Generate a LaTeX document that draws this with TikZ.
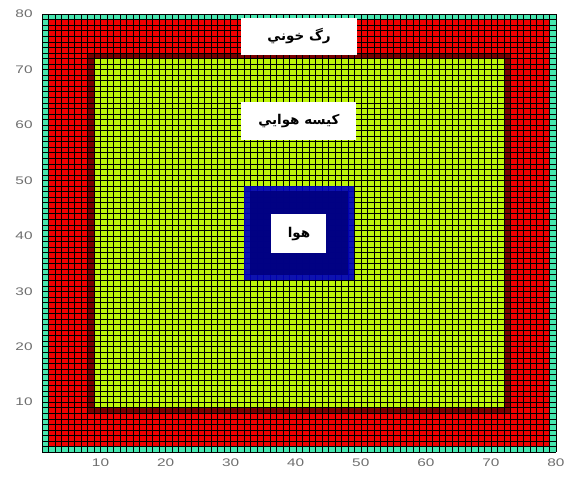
\documentclass[tikz,border=0pt]{standalone}
\usepackage{fontspec}
\setmainfont{Liberation Sans}
\newfontfamily\farsifont[Script=Arabic]{DejaVu Sans}
\TeXXeTstate=1
\definecolor{CellCyan}{RGB}{70,230,175}
\definecolor{CellRed}{RGB}{240,0,0}
\definecolor{WallRed}{RGB}{120,0,0}
\definecolor{CellLime}{RGB}{190,245,10}
\definecolor{AirBlue}{RGB}{0,0,190}
\definecolor{AirNavy}{RGB}{0,0,128}
\definecolor{TickGray}{RGB}{110,110,110}
\tikzset{tag/.style={fill=white,inner sep=0pt,font=\farsifont\bfseries\fontsize{13.5}{13.5}\selectfont},
  ticklab/.style={text=TickGray,inner sep=0pt,font=\fontsize{11}{11}\selectfont,xscale=1.4,transform shape}}

\begin{document}
\begin{tikzpicture}[x=1pt,y=1pt]
\useasboundingbox (0,0) rectangle (566,480);
\begin{scope}[shift={(35.494pt,22.456pt)},x=6.506pt,y=5.544pt]
\fill[CellCyan] (1,1) rectangle (80,80);\fill[CellRed] (2,2) rectangle (79,79);
\fill[WallRed] (8,8) rectangle (73,73);\fill[CellLime] (9,9) rectangle (72,72);
% cell grid
\foreach \i in {1,...,80}{\draw[black,line width=.35pt] (\i,1)--(\i,80) (1,\i)--(80,\i);}
\fill[AirBlue,opacity=.92] (32,32) rectangle (49,49);\fill[AirNavy,opacity=.92] (33,33) rectangle (48,48);
\node[tag,minimum width=116pt,minimum height=37pt] (vessel) at (40.5,75.95) {\beginR رگ خوني\endR};
\node[tag,minimum width=115pt,minimum height=38pt] (sac) at (40.5,60.7) {\beginR کیسه هوايي\endR};
\node[tag,minimum width=55pt,minimum height=39pt] (air) at (40.5,40.4) {\beginR هوا\endR};
\foreach \v in {10,20,...,80}{
  \node[ticklab] (xt\v) at (\v,-1) {\v};
  \node[ticklab,anchor=east] (yt\v) at (-0.4,\v) {\v};}
\end{scope}
\end{tikzpicture}
\end{document}
